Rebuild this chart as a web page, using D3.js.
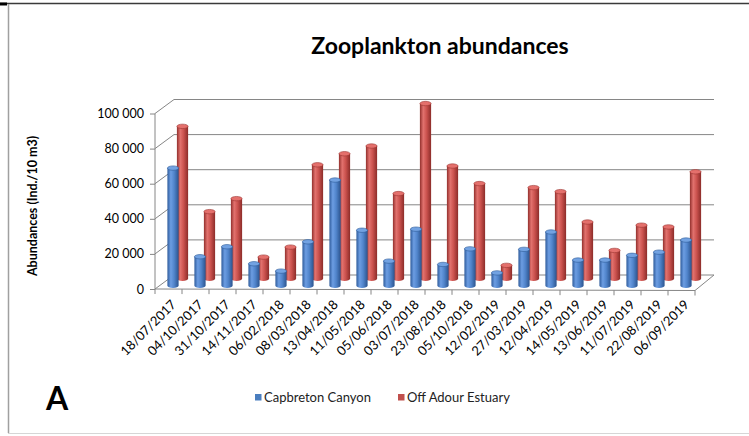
<!DOCTYPE html>
<html>
<head>
<meta charset="utf-8">
<script src="https://cdn.jsdelivr.net/npm/d3@7"></script>
<style>
  html, body { margin: 0; padding: 0; background: #fff; }
  svg { display: block; font-family: Lato, "Noto Sans", sans-serif; }
</style>
</head>
<body>
<svg id="chart" width="749" height="436"></svg>
<script>
// Sampling dates (category axis)
const dates = ["18/07/2017","04/10/2017","31/10/2017","14/11/2017","06/02/2018","08/03/2018",
  "13/04/2018","11/05/2018","05/06/2018","03/07/2018","23/08/2018","05/10/2018",
  "12/02/2019","27/03/2019","12/04/2019","14/05/2019","13/06/2019","11/07/2019",
  "22/08/2019","06/09/2019"];

// Abundances (Ind./10 m3)
const capbreton = [67000,16500,22200,12500,8300,25000,60200,31600,14000,32200,
  12100,21000,7300,20700,30600,14600,14600,17300,19100,26000];
const adour = [86800,38200,45600,12300,18000,64900,71200,75600,48500,99800,
  64200,54200,7600,51900,49600,32300,16100,30500,29500,60900];

const yTicks = [0, 20000, 40000, 60000, 80000, 100000];
const seriesNames = ["Capbreton Canyon", "Off Adour Estuary"];

const svg = d3.select("#chart");
const fmt = v => d3.format(",")(v).replace(/,/g, " ");

// Oblique projection: depth 0 = front plane, depth 1 = back wall
const depthDX = 19, depthDY = -14;
const x = d3.scaleBand().domain(dates).range([155, 695]);
const y = d3.scaleLinear().domain([0, 100000]).range([289, 113.5]);
const proj = (px, v, d) => [px + d * depthDX, y(v) + d * depthDY];

// Outer frame
svg.append("line").attr("x1", 0).attr("x2", 749).attr("y1", 3.5).attr("y2", 3.5)
  .attr("stroke", "#3a3a3a").attr("stroke-width", 1.6);
svg.append("line").attr("x1", 0).attr("x2", 7).attr("y1", 4).attr("y2", 4)
  .attr("stroke", "#000").attr("stroke-width", 3);
svg.append("line").attr("x1", 8.5).attr("x2", 8.5).attr("y1", 4).attr("y2", 433)
  .attr("stroke", "#a0a0a0").attr("stroke-width", 1.5);
svg.append("line").attr("x1", 8).attr("x2", 749).attr("y1", 433.5).attr("y2", 433.5)
  .attr("stroke", "#d6d6d6").attr("stroke-width", 1);

// Title
svg.append("text").attr("x", 440).attr("y", 54).attr("text-anchor", "middle")
  .attr("font-size", 23).attr("font-weight", "bold").attr("fill", "#000")
  .text("Zooplankton abundances");

const gridColor = "#868686";
const [x0, x1] = x.range();

// Back-wall gridlines and side-wall diagonals
const grid = svg.append("g").attr("stroke", gridColor).attr("stroke-width", 1).attr("fill", "none");
yTicks.forEach(t => {
  const [fx, fy] = proj(x0, t, 0);
  const [bx, by] = proj(x0, t, 1);
  const [ex] = proj(x1, t, 1);
  grid.append("path").attr("d", `M${fx},${fy}L${bx},${by}L${ex},${by}`);
});
// Floor: right edge and front edge
{
  const [ax, ay] = proj(x1, 0, 1);
  const [fx, fy] = proj(x1, 0, 0);
  grid.append("path").attr("d", `M${ax},${ay}L${fx},${fy + 1.5}L${x0},${fy}`);
}

// Value axis (front-left edge)
const yAxis = d3.axisLeft(y).tickValues(yTicks).tickFormat(fmt).tickSize(5).tickPadding(6);
const ya = svg.append("g").attr("transform", `translate(${x0},0)`).call(yAxis);
ya.select(".domain").attr("stroke", gridColor).attr("d", `M-0,${y(0)}V${y(100000)}`);
ya.selectAll(".tick line").attr("stroke", gridColor);
ya.selectAll(".tick text").attr("font-size", 12.5).attr("fill", "#000")
  .attr("font-family", "Lato, 'Noto Sans', sans-serif");

// Category axis: ticks at category boundaries, rotated labels
const xa = svg.append("g");
d3.range(dates.length + 1).forEach(i => {
  const tx = x0 + i * x.bandwidth();
  xa.append("line").attr("x1", tx).attr("x2", tx).attr("y1", y(0) + i * 0.075).attr("y2", y(0) + 5 + i * 0.075)
    .attr("stroke", gridColor);
});
xa.selectAll("text").data(dates).join("text")
  .attr("transform", d => `translate(${x(d) + x.bandwidth() / 2 + 2},${y(0) + 10}) rotate(-45)`)
  .attr("text-anchor", "end").attr("dy", "0.7em")
  .attr("font-size", 13).attr("fill", "#000").text(d => d);

// Y-axis title
svg.append("text").attr("transform", "translate(37,206) rotate(-90)")
  .attr("text-anchor", "middle").attr("font-size", 12.5).attr("font-weight", "bold")
  .attr("fill", "#000").text("Abundances (Ind./10 m3)");

// Panel letter
svg.append("text").attr("x", 46).attr("y", 410).attr("font-size", 32)
  .attr("font-weight", "bold").attr("fill", "#000").text("A");

// Cylinder shading gradients
const defs = svg.append("defs");
const palettes = [
  { id: "gBlue", stops: ["#2f5c9c", "#6c9de2", "#5185cc", "#2c548e"], top: "#72a2e2", edge: "#2f5c99", key: "#4a7ebf" },
  { id: "gRed", stops: ["#922f2c", "#e2726e", "#cb524e", "#8c2c29"], top: "#e4706c", edge: "#9a3431", key: "#c0504d" }
];
palettes.forEach(p => {
  const g = defs.append("linearGradient").attr("id", p.id)
    .attr("x1", "0%").attr("x2", "100%").attr("y1", "0%").attr("y2", "0%");
  [0, 30, 60, 100].forEach((o, i) => g.append("stop").attr("offset", o + "%").attr("stop-color", p.stops[i]));
});

const r = 5.6, ry = 2.2;
function drawCylinders(values, depth, pal) {
  const g = svg.append("g");
  const cols = g.selectAll("g").data(values.map((v, i) => ({ v, d: dates[i] }))).join("g");
  cols.append("path")
    .attr("d", o => {
      const cx = x(o.d) + x.bandwidth() / 2;
      const [px, by] = proj(cx, 0, depth);
      const [, ty] = proj(cx, o.v, depth);
      return `M${px - r},${ty}L${px - r},${by}A${r},${ry} 0 0 0 ${px + r},${by}L${px + r},${ty}Z`;
    })
    .attr("fill", `url(#${pal.id})`);
  cols.append("ellipse")
    .attr("cx", o => proj(x(o.d) + x.bandwidth() / 2, o.v, depth)[0])
    .attr("cy", o => proj(x(o.d) + x.bandwidth() / 2, o.v, depth)[1])
    .attr("rx", r).attr("ry", ry)
    .attr("fill", pal.top).attr("stroke", pal.edge).attr("stroke-width", 0.6);
}
// Back row first, then front row
drawCylinders(adour, 0.737, palettes[1]);
drawCylinders(capbreton, 0.237, palettes[0]);

// Legend
const legend = svg.append("g").attr("font-size", 13);
const legendItems = [
  { name: seriesNames[0], color: palettes[0].key, x: 255 },
  { name: seriesNames[1], color: palettes[1].key, x: 398 }
];
legendItems.forEach(it => {
  legend.append("rect").attr("x", it.x).attr("y", 394).attr("width", 6.5).attr("height", 6.5).attr("fill", it.color);
  legend.append("text").attr("x", it.x + 9).attr("y", 402).attr("fill", "#222").text(it.name);
});
</script>
</body>
</html>
